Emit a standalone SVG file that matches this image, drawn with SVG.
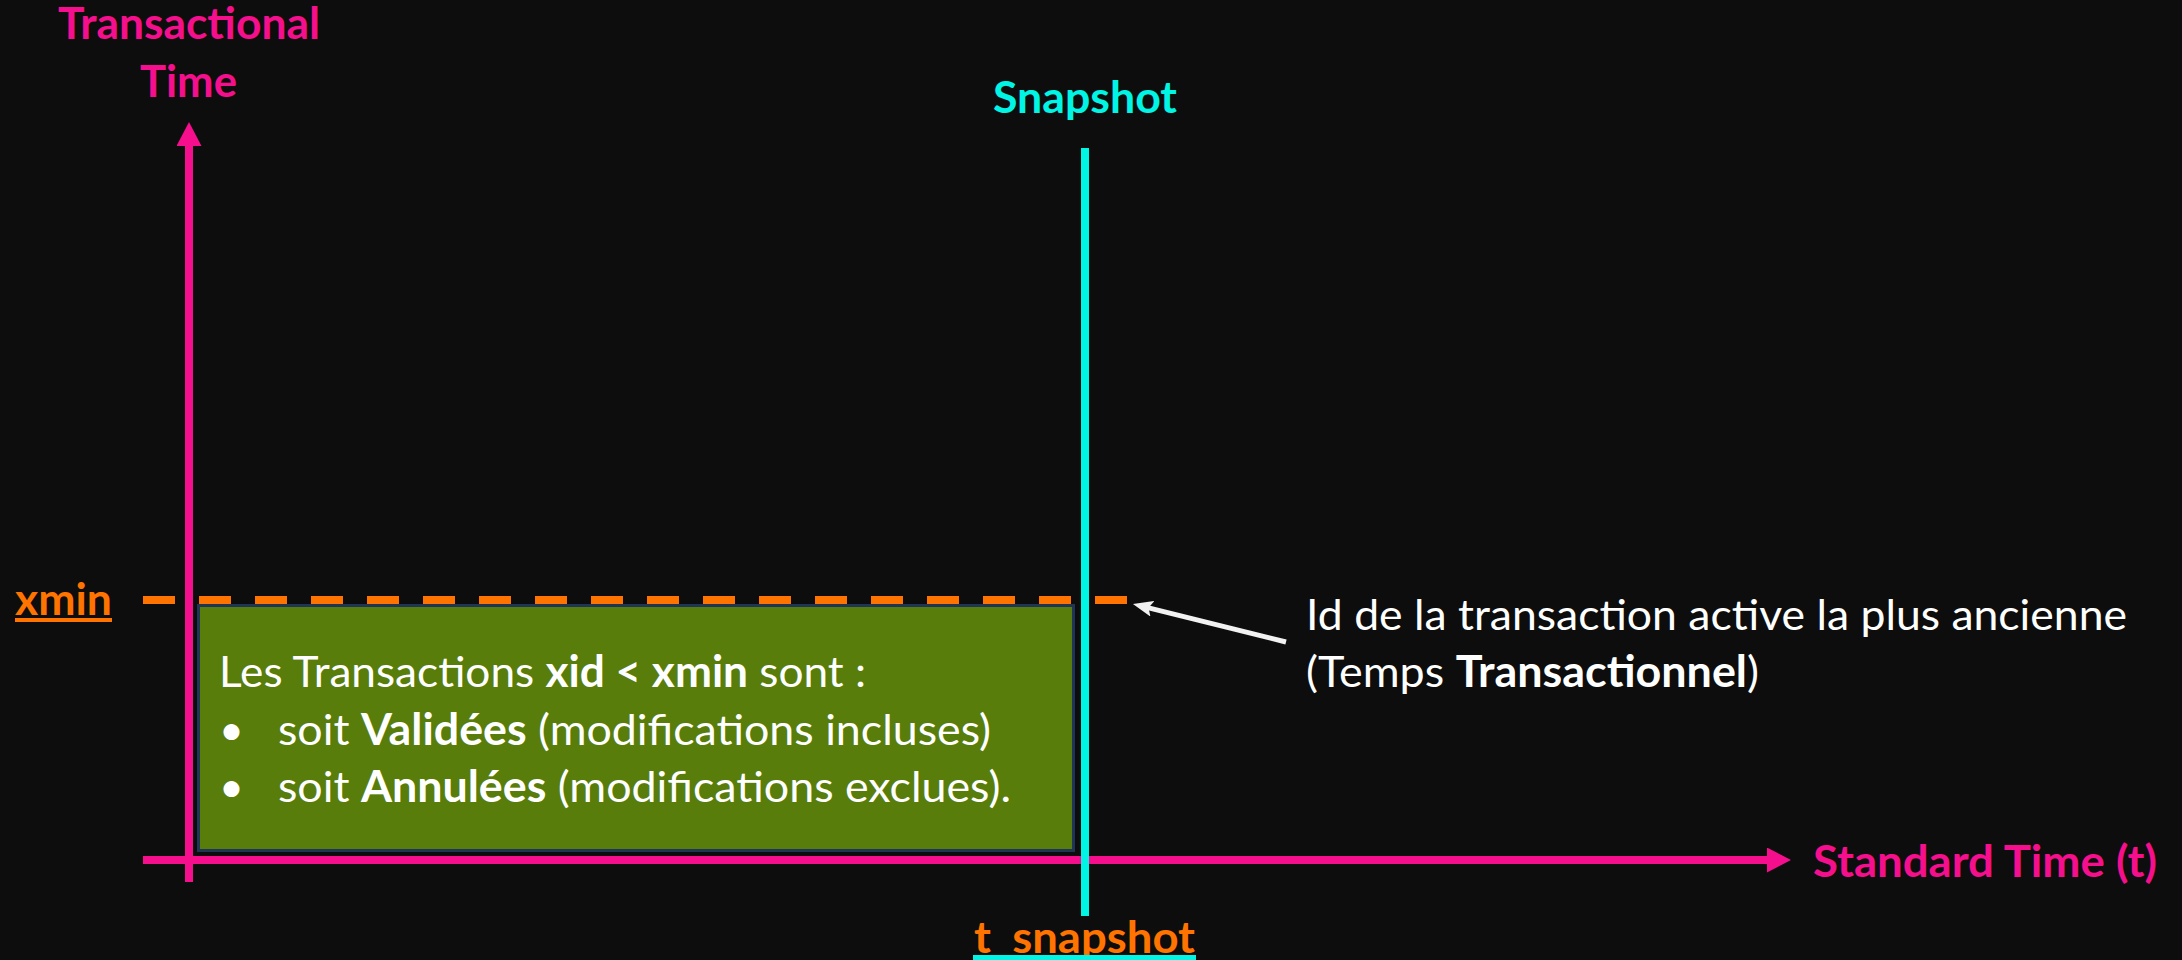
<svg xmlns="http://www.w3.org/2000/svg" width="2182" height="960" viewBox="0 0 2182 960">
  <defs>
    <style>
      .axis { stroke: #f50f8c; stroke-width: 8; fill: none; }
      .snap { stroke: #00f5e4; stroke-width: 8; fill: none; }
      .xmin-line { stroke: #ff7300; stroke-width: 8; fill: none; stroke-dasharray: 32 24; }
      .pointer { stroke: #f2f2f2; stroke-width: 5; fill: none; }
      .title { font-family: Lato, "Open Sans", "Liberation Sans", sans-serif; font-weight: 700; font-size: 43px; }
      .body { font-family: Lato, "Open Sans", "Liberation Sans", sans-serif; font-size: 43px; fill: #ffffff; }
      .b { font-weight: 700; }
      .pink { fill: #f50f8c; }
      .cyan { fill: #00f5e4; }
      .orange { fill: #ff7300; }
    </style>
    <marker id="axisHead" markerUnits="userSpaceOnUse" markerWidth="24" markerHeight="25" viewBox="0 0 24 25" refX="0" refY="12.5" orient="auto">
      <path d="M0,0 L24,12.5 L0,25 z" fill="#f50f8c"/>
    </marker>
    <marker id="pointerHead" markerUnits="userSpaceOnUse" markerWidth="20" markerHeight="16" viewBox="0 0 20 16" refX="8" refY="8" orient="auto">
      <path d="M0,0 L20,8 L0,16 L4,8 z" fill="#f2f2f2"/>
    </marker>
  </defs>

  <!-- background -->
  <rect x="0" y="0" width="2182" height="960" fill="#0d0d0d"/>

  <!-- xmin threshold (dashed) -->
  <g id="xmin">
    <line class="xmin-line" x1="143" y1="600" x2="1127" y2="600"/>
    <text class="title orange" x="15" y="615" textLength="97" lengthAdjust="spacingAndGlyphs">xmin</text>
    <rect x="15" y="618" width="97" height="4" fill="#ff7300"/>
  </g>

  <!-- committed / aborted region -->
  <g id="committed-box">
    <rect x="198.5" y="605.5" width="875" height="245" fill="#587d0b" stroke="#1f3556" stroke-width="3"/>
    <text class="body" x="219" y="687" textLength="647" lengthAdjust="spacingAndGlyphs">Les Transactions <tspan class="b">xid &lt; xmin</tspan> sont :</text>
    <text class="body" x="219" y="745">•</text>
    <text class="body" x="278" y="745" textLength="713" lengthAdjust="spacingAndGlyphs">soit <tspan class="b">Validées</tspan> (modifications incluses)</text>
    <text class="body" x="219" y="802">•</text>
    <text class="body" x="278" y="802" textLength="733" lengthAdjust="spacingAndGlyphs">soit <tspan class="b">Annulées</tspan> (modifications exclues).</text>
  </g>

  <!-- vertical axis: transactional time -->
  <g id="axis-transactional">
    <line class="axis" x1="189" y1="882" x2="189" y2="146" marker-end="url(#axisHead)"/>
    <text class="title pink" x="58" y="39" textLength="262" lengthAdjust="spacingAndGlyphs">Transactional</text>
    <text class="title pink" x="140" y="97" textLength="97" lengthAdjust="spacingAndGlyphs">Time</text>
  </g>

  <!-- horizontal axis: standard time -->
  <g id="axis-standard">
    <line class="axis" x1="143" y1="860" x2="1767" y2="860" marker-end="url(#axisHead)"/>
    <text class="title pink" x="1813" y="877" textLength="344" lengthAdjust="spacingAndGlyphs">Standard Time (t)</text>
  </g>

  <!-- snapshot instant -->
  <g id="snapshot">
    <line class="snap" x1="1085" y1="148" x2="1085" y2="916"/>
    <text class="title cyan" x="993" y="113" textLength="184" lengthAdjust="spacingAndGlyphs">Snapshot</text>
    <text class="title orange" x="974" y="953" textLength="221" lengthAdjust="spacingAndGlyphs">t_snapshot</text>
    <rect x="973" y="955" width="223" height="5" fill="#00f5e4"/>
  </g>

  <!-- note on xmin -->
  <g id="note">
    <text class="body" x="1306" y="630" textLength="821" lengthAdjust="spacingAndGlyphs">Id de la transaction active la plus ancienne</text>
    <text class="body" x="1306" y="687" textLength="453" lengthAdjust="spacingAndGlyphs">(Temps <tspan class="b">Transactionnel</tspan>)</text>
  </g>

  <g id="connectors">
    <line class="pointer" x1="1286" y1="642" x2="1144.6" y2="606.9" marker-end="url(#pointerHead)"/>
  </g>
</svg>
